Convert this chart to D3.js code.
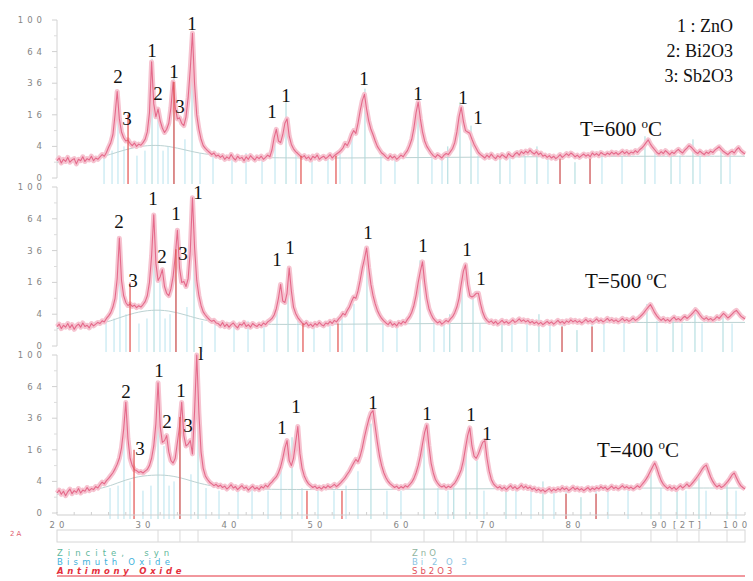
<!DOCTYPE html>
<html>
<head>
<meta charset="utf-8">
<script src="https://cdn.jsdelivr.net/npm/d3@7"></script>
<style>
  body { margin: 0; background: #fff; }
  svg { display: block; }
</style>
</head>
<body>
<div id="chart"></div>
<script>
// XRD scans, counts on a sqrt scale, sampled every 0.25 deg 2theta from 20
var scanStart = 20
var scanStep = 0.25

var trace600 = [
  1.2, 1.6, 0.9, 1.4, 1.1, 1.7, 1.0, 1.3, 1.5, 0.8, 1.4, 1.2, 1.8, 1.1, 1.5, 1.3, 1.9, 1.2, 1.6, 1.4,
  1.8, 2.2, 1.9, 2.6, 3.8, 5.0, 7.5, 16,
  30, 14, 8.5, 6.5, 5.5, 5.8, 4.8, 4.2, 4.9, 4.0, 4.6, 4.3, 5.0, 6.0, 8.5, 17, 54, 22, 15, 19, 13, 10,
  8.3, 9.5, 12, 20, 37, 20, 14, 14.5, 12, 11, 15, 26, 48, 84, 35, 16, 9.5, 6, 4.2, 3.5, 3.0, 2.6, 2.2, 2.5, 1.9,
  2.1, 1.7, 2.0, 1.4, 1.8, 1.5, 2.2, 1.6, 1.3, 1.9, 1.5, 1.7, 1.2, 1.8, 1.4, 2.0, 1.6, 1.3, 1.8, 1.5, 1.9, 1.4, 1.7, 2.1, 1.8,
  3.2, 6.5, 9.5, 5.5, 5.0, 7.5, 12, 14, 7, 4.5, 3.4, 2.8, 2.4, 2.0,
  1.7, 2.0, 1.5, 1.8, 1.3, 1.9, 1.6, 2.1, 1.4, 1.7, 1.9, 1.5, 1.8, 2.2, 1.6, 2.0, 2.3, 2.6,
  3.0, 3.6, 4.8, 4.2, 5.5, 7.5, 9, 8, 12, 18, 24, 28, 19, 13, 9.5, 7.5, 5.5, 4.0, 3.2, 2.5, 2.2,
  1.8, 1.5, 2.0, 1.6, 1.9, 1.4, 1.7, 2.1, 1.8, 2.4,
  3.0, 4.2, 6.0, 10, 17, 23, 14, 8.5, 5.5, 4.0, 3.2, 2.5,
  2.0, 1.7, 2.2, 1.9, 1.6, 2.1, 2.4, 2.2,
  2.8, 3.5, 5.0, 8.5, 15, 20, 13, 9, 8.5, 8, 6, 4.5, 3.5, 2.6, 2.2,
  1.9, 1.6, 2.1, 1.7, 2.3, 1.8, 1.5, 2.0, 1.7, 2.2, 1.9, 1.6, 2.4, 2.0, 1.8, 2.3, 2.6, 2.1, 2.8, 2.4,
  2.9, 2.5, 3.1, 2.6, 2.3, 2.8, 2.2, 2.5, 1.9, 2.1, 1.7, 2.0, 1.6, 1.9, 1.5, 1.8, 2.2, 1.7, 2.0, 2.4,
  2.0, 2.5, 2.2, 1.8, 2.1, 1.7, 2.0, 2.3, 1.9, 2.2, 1.8, 2.5, 2.1, 2.4, 2.0, 2.6, 2.3, 2.1, 2.5, 2.2,
  2.7, 2.3, 2.6, 2.2, 2.5, 2.9, 2.4, 2.8, 2.3, 2.7, 2.5, 3.0, 2.6, 3.2, 3.6, 4.2,
  5.0, 5.8, 4.6, 3.8, 3.2, 2.6,
  2.3, 2.8, 2.4, 3.0, 2.6, 2.2, 2.7, 2.4, 2.9, 3.3, 2.8, 2.5, 3.1, 3.6, 4.2, 3.8, 3.2, 2.7, 2.4, 2.9,
  2.5, 2.2, 2.7, 2.4, 2.9, 2.6, 3.1, 3.5, 3.9, 3.3, 2.8, 2.5, 2.2, 2.6, 2.9, 2.5, 3.2, 3.7, 3.0, 2.6, 2.3
]

var trace500 = [
  1.5, 1.9, 1.2, 1.7, 1.4, 2.0, 1.3, 1.8, 1.1, 1.6, 1.9, 1.4, 2.1, 1.5, 1.7, 1.3, 2.0, 1.6, 1.9, 2.2,
  2.0, 2.5, 2.3, 3.0, 3.6, 4.4, 6.0,
  9, 18, 46, 17, 10, 7.5, 6.5, 7.0, 6.2, 6.6, 5.8, 6.4, 6.0, 6.8, 7.8, 10, 16, 32, 68, 27, 17, 19,
  23, 14, 11, 10, 13, 19, 32, 53, 24, 16, 16.5, 14, 18, 36, 87, 38, 17, 10, 6.5, 4.6, 3.8, 3.2, 2.7, 2.4, 2.6, 2.1,
  2.0, 1.6, 2.2, 1.5, 1.9, 1.4, 1.8, 2.1, 1.6, 1.3, 1.9, 1.7, 2.2, 1.5, 1.8, 1.4, 2.0, 1.7, 1.5, 1.9, 1.6, 2.1, 1.8, 2.3, 2.6, 3.0,
  3.8, 5.5, 9, 15, 8, 7.5, 11, 24, 12, 6, 4.2, 3.2, 2.6,
  2.1, 1.8, 2.2, 1.6, 1.9, 1.5, 2.0, 1.7, 2.2, 1.8, 1.6, 2.1, 1.9, 2.4, 2.0, 2.6, 2.3, 2.9, 3.4, 4.2,
  3.8, 5.0, 6.0, 7.8, 9.5, 9.0, 12, 17, 24, 30, 38, 24, 15, 10, 7, 5, 3.8, 3.0, 2.5,
  2.1, 1.8, 2.3, 1.7, 2.0, 1.6, 2.2, 1.9, 2.4, 2.1, 2.8, 3.4,
  4.5, 6.5, 10, 16, 22, 28, 16, 9, 5.5, 4.0, 3.0,
  2.5, 2.1, 2.4, 1.9, 2.2, 2.6, 2.3, 2.9, 3.4,
  4.4, 6.0, 9.0, 15, 22, 26, 15, 10, 9.5, 10, 11, 11, 7, 4.5, 3.2, 2.6,
  2.2, 2.5, 2.0, 2.4, 1.9, 2.2, 2.6, 2.1, 2.4, 2.0, 2.3, 2.7, 2.2, 2.5, 2.9, 2.4, 2.7, 2.3, 2.6, 2.1,
  2.4, 2.0, 2.3, 1.9, 2.2, 1.8, 2.1, 2.4, 2.0, 2.3, 1.9, 2.2, 2.6, 2.1, 2.4, 2.0, 2.5, 2.2, 2.7, 2.3,
  2.6, 2.2, 2.5, 2.1, 2.4, 2.8, 2.3, 2.6, 2.2, 2.5, 2.9, 2.4, 2.7, 2.3, 2.6, 3.0, 2.5, 2.8, 2.4, 2.7,
  2.3, 2.6, 3.0, 2.5, 2.8, 2.4, 2.7, 3.1, 2.6, 2.9, 3.3, 3.8, 4.4, 5.2,
  6.0, 6.8, 5.6, 4.4, 3.6, 3.0,
  2.6, 3.0, 2.5, 2.8, 2.4, 2.9, 3.3, 2.7, 3.0, 2.6, 3.1, 3.5, 3.0, 3.4, 3.9, 4.5, 5.2, 4.6, 3.8, 3.2,
  2.8, 3.2, 2.7, 3.0, 2.6, 2.9, 3.4, 3.0, 3.6, 4.2, 3.7, 3.1, 3.5, 4.0, 4.6, 5.0, 4.3, 3.6, 3.2, 2.9
]

var trace400 = [
  1.6, 2.1, 1.4, 1.9, 1.2, 1.8, 2.3, 1.5, 2.0, 1.7, 2.4, 1.6, 2.1, 1.9, 2.6, 2.0, 2.4, 2.2, 2.8, 2.5,
  3.2, 3.8, 3.4, 4.2, 4.8, 5.6, 6.5, 7.8, 9.5, 12, 17, 28,
  49,
  22, 12, 9, 7.5, 7.2, 6.6, 6.9, 6.4, 7.0, 7.6, 9.0, 12, 18, 32,
  68,
  30, 20, 21, 24, 15, 11, 10, 12, 20, 30,
  49,
  24, 18, 19, 21, 14, 42,
  100,
  40, 15, 8, 5.5, 4.5, 3.8, 3.4, 3.0, 3.3, 2.8,
  3.1, 2.6, 2.9, 2.3, 2.7, 3.2, 2.5, 2.8, 2.2, 2.6, 3.0, 2.4, 2.7, 2.1, 2.5, 2.9, 2.3, 2.6, 2.2, 2.8, 2.5, 3.1, 2.7, 3.4, 3.9, 4.6,
  5.2, 6.5, 8.5, 12, 17, 21, 11, 9, 12, 20, 30, 14, 8, 5.5, 4.2, 3.4, 3.0,
  2.6, 2.9, 2.4, 2.7, 2.3, 2.8, 2.5, 3.0, 2.6, 2.9, 3.3, 2.8, 3.2, 3.7, 4.3, 5.0, 6.0,
  7.0, 8.5, 10, 11.5, 10.5, 13, 17, 23, 29, 35, 40, 42, 30, 20, 13, 9, 6.5, 5.0, 4.0, 3.4, 3.0,
  2.6, 2.9, 2.4, 2.8, 2.5, 3.0, 2.7, 3.2, 3.8, 4.8,
  6.5, 9, 13, 19, 26, 31, 18, 10, 6.5, 4.5, 3.6, 3.0,
  2.7, 3.0, 2.5, 2.9, 2.6, 3.1, 3.6, 4.5,
  5.8, 7.5, 11, 17, 24, 29, 18, 13, 12, 14, 17, 20, 21, 12, 7, 4.5, 3.4,
  2.9, 2.5, 2.8, 2.3, 2.7, 2.2, 2.6, 3.0, 2.4, 2.8, 2.3, 2.6, 3.1, 2.5, 2.9, 2.4, 2.7, 2.2, 2.5, 2.0,
  2.3, 1.9, 2.2, 1.8, 2.1, 2.4, 1.9, 2.3, 2.0, 2.4, 2.1, 2.6, 2.2, 2.5, 2.0, 2.3, 2.7, 2.2, 2.5, 2.1,
  2.4, 2.0, 2.3, 2.6, 2.1, 2.5, 2.2, 2.6, 2.3, 2.8, 2.4, 2.7, 2.2, 2.5, 2.9, 2.4, 2.7, 2.3, 2.6, 3.0,
  2.5, 2.8, 2.4, 2.7, 2.3, 2.6, 3.0, 2.6, 3.2, 3.8, 4.6, 5.6, 7.0,
  8.5, 10, 8.0, 5.8, 4.2, 3.3, 2.8,
  2.4, 2.8, 2.3, 2.7, 2.2, 2.6, 3.0, 2.5, 2.9, 3.4, 2.8, 3.3, 3.9, 4.6, 5.4, 6.4, 7.6, 8.6, 9.2, 7.0,
  5.2, 4.0, 3.2, 2.7, 3.1, 2.6, 2.9, 3.4, 4.0, 4.8, 5.8, 6.4, 5.0, 3.8, 3.0, 2.6, 2.3
]

// fitted background (smooth) under each scan
var bgTheta = [20, 25, 27, 29, 31, 33, 35, 37, 40, 45, 55, 65, 75, 85, 100]
var bg600 = [1.0, 1.6, 2.7, 3.8, 4.4, 4.1, 3.1, 2.3, 1.8, 1.6, 1.6, 1.7, 1.8, 1.9, 1.9]
var bg500 = [1.2, 1.8, 3.0, 4.4, 5.2, 5.0, 3.8, 2.6, 2.0, 1.8, 1.9, 2.0, 2.1, 2.2, 2.2]
var bg400 = [1.4, 2.2, 3.6, 5.2, 5.8, 5.8, 4.6, 3.2, 2.4, 2.2, 2.2, 2.3, 2.4, 2.5, 2.5]

// reference patterns (stick positions, relative heights)
var zincTheta = [31.05, 33.60, 35.70, 46.63, 55.81, 61.98, 65.44, 66.86, 68.14, 71.51, 75.81, 80.23, 88.37, 91.40, 93.95, 97.21]
var zincHeight = [57, 44, 80, 23, 32, 29, 4, 23, 11, 2, 4, 1, 7, 3, 6, 4]
var bismuthTheta = [25.47, 26.40, 27.09, 27.79, 29.30, 30.23, 31.74, 32.33, 32.91, 34.88, 36.63, 38.14, 40.35, 41.98, 43.84, 45.35, 47.79, 49.65, 51.51, 52.91, 54.30, 57.67, 59.30, 63.60, 64.77, 68.95, 72.67, 74.42, 77.09, 78.49, 81.98, 83.37, 85.70, 89.53, 92.44, 94.77, 98.26]
var bismuthHeight = [2.5, 3, 30, 4, 2, 3, 18, 3, 4, 6, 2.5, 2, 2, 2.5, 2, 9, 2.5, 2, 2, 3, 7, 2, 2, 2.5, 2, 2, 2, 2, 2, 2, 2, 2, 2, 2.5, 2, 2, 2]
var antimonyTheta = [28.26, 33.60, 48.37, 52.44, 78.49, 81.98]
var antimonyHeight = [16, 37, 2, 2, 1.5, 1.5]

var yTicks = [0, 4, 16, 36, 64, 100]
var yMinor = [1, 9, 25, 49, 81]
var xTicks = [20, 30, 40, 50, 60, 70, 80, 90, 100]

var peakLabels = [
  ["2", "3", "1", "2", "1", "3", "1", "1", "1", "1", "1", "1", "1"],
  ["2", "3", "1", "2", "1", "3", "1", "1", "1", "1", "1", "1", "1"],
  ["2", "3", "1", "2", "1", "3", "l", "1", "1", "1", "1", "1", "1"]
]
var tempLabels = ["600", "500", "400"]
var legendLines = ["1 : ZnO", "2: Bi2O3", "3: Sb2O3"]

var phaseNames = ["Zincite,  syn", "Bismuth Oxide", "Antimony Oxide"]
var phaseFormula = ["ZnO", "Bi 2 O 3", "Sb2O3"]

// layout
var svgWidth = 753
var svgHeight = 581

var panels = [
  { top: 20, bottom: 178, dx: 0, trace: trace600, bg: bg600, tx: 580, ty: 136,
    labels: [[118,83],[127,125],[152,57],[158,100],[174,78],[180,113],[192,30],[272,118],[286,102],[364,85],[418,100],[463,104],[478,124]] },
  { top: 187, bottom: 346, dx: 2, trace: trace500, bg: bg500, tx: 585, ty: 288,
    labels: [[119,228],[133,287],[153,205],[162,263],[176,220],[183,260],[198,199],[277,266],[290,254],[368,239],[423,252],[467,256],[481,285]] },
  { top: 355, bottom: 513, dx: 6, trace: trace400, bg: bg400, tx: 597, ty: 457,
    labels: [[126,398],[140,455],[159,377],[167,428],[181,397],[188,432],[201,360],[282,434],[296,413],[373,409],[427,420],[471,421],[487,440]] }
]

var svg = d3.select("#chart")
  .append("svg")
  .attr("width", svgWidth)
  .attr("height", svgHeight)

var x = d3.scaleLinear().domain([20, 100]).range([57, 745])

var axisFont = "DejaVu Sans"
var serif = "'Liberation Serif', 'Times New Roman', serif"
var digitW = 0.636   // DejaVu Sans digit advance, em

// software style numbers with wide gaps: every glyph gets its own x
function spacedDigits(sel, size, gap, anchor, px) {
  sel.attr("font-family", axisFont)
    .attr("font-size", size)
    .attr("text-anchor", "start")
    .attr("x", function(d) {
      var s = String(d)
      var cw = digitW * size
      var w = s.length * cw + (s.length - 1) * gap
      var x0 = px(d)
      if (anchor === "end") x0 = x0 - w
      if (anchor === "middle") x0 = x0 - w / 2
      return d3.range(s.length).map(i => (x0 + i * (cw + gap)).toFixed(1)).join(" ")
    })
}

// letters spread apart, left aligned
function spaced(sel, size, gap) {
  sel.attr("font-family", axisFont)
    .attr("font-size", size)
    .attr("dx", function() {
      var n = this.textContent.length
      return d3.range(n).map(i => i === 0 ? 0 : gap).join(" ")
    })
}

panels.forEach(function(p, k) {
  var y = d3.scaleSqrt().domain([0, 100]).range([p.bottom, p.top])
  var g = svg.append("g")

  // y axis
  g.append("line")
    .attr("x1", 57).attr("x2", 57)
    .attr("y1", p.top).attr("y2", p.bottom)
    .attr("stroke", "#d4d4d4")
  g.selectAll(".ymaj")
    .data(yTicks)
    .enter()
    .append("line")
    .attr("x1", 52).attr("x2", 57)
    .attr("y1", d => y(d)).attr("y2", d => y(d))
    .attr("stroke", "#d0d0d0")
  g.selectAll(".ymin")
    .data(yMinor)
    .enter()
    .append("line")
    .attr("x1", 54).attr("x2", 57)
    .attr("y1", d => y(d)).attr("y2", d => y(d))
    .attr("stroke", "#dcdcdc")
  g.selectAll(".ylab")
    .data(yTicks)
    .enter()
    .append("text")
    .attr("y", d => y(d) + 3)
    .attr("fill", "#858585")
    .text(d => d)
    .call(spacedDigits, 8.5, 4, "end", d => 42)

  // reference sticks
  function sticks(theta, heights, color, width) {
    g.append("g")
      .selectAll("line")
      .data(theta)
      .enter()
      .append("line")
      .attr("x1", d => x(d) + p.dx).attr("x2", d => x(d) + p.dx)
      .attr("y1", p.bottom + 6)
      .attr("y2", (d, i) => y(heights[i]))
      .attr("stroke", color)
      .attr("stroke-width", width)
  }
  sticks(bismuthTheta, bismuthHeight, "#b8e3ee", 1)
  sticks(zincTheta, zincHeight, "#a9d9dc", 1)

  // background fit
  var bgLine = d3.line()
    .x((d, i) => x(bgTheta[i]))
    .y(d => y(d))
    .curve(d3.curveBasis)
  g.append("path")
    .attr("d", bgLine(p.bg))
    .attr("fill", "none")
    .attr("stroke", "#bcd2d2")
    .attr("stroke-width", 1)

  // measured scan
  var scanLine = d3.line()
    .x((d, i) => x(scanStart + i * scanStep))
    .y(d => y(d))
  g.append("path")
    .attr("d", scanLine(p.trace))
    .attr("fill", "none")
    .attr("stroke", "#f6c3d0")
    .attr("stroke-width", 5)
    .attr("stroke-linejoin", "round")
  g.append("path")
    .attr("d", scanLine(p.trace))
    .attr("fill", "none")
    .attr("stroke", "#e4698a")
    .attr("stroke-width", 1.1)
    .attr("stroke-linejoin", "round")

  sticks(antimonyTheta, antimonyHeight, "#e2504e", 1.2)

  // peak labels
  g.selectAll(".pk")
    .data(peakLabels[k])
    .enter()
    .append("text")
    .attr("x", (d, i) => p.labels[i][0])
    .attr("y", (d, i) => p.labels[i][1])
    .attr("text-anchor", "middle")
    .attr("font-family", serif)
    .attr("font-size", 19)
    .attr("fill", "#111")
    .text(d => d)

  var t = g.append("text")
    .attr("x", p.tx)
    .attr("y", p.ty)
    .attr("font-family", serif)
    .attr("font-size", 21)
    .attr("fill", "#111")
  t.append("tspan").text("T=" + tempLabels[k] + " ")
  t.append("tspan").attr("font-size", 13).attr("dy", -8).text("o")
  t.append("tspan").attr("dy", 8).text("C")
})

// phase legend
svg.selectAll(".leg")
  .data(legendLines)
  .enter()
  .append("text")
  .attr("x", 733)
  .attr("y", (d, i) => 32 + i * 25)
  .attr("text-anchor", "end")
  .attr("font-family", serif)
  .attr("font-size", 18)
  .attr("fill", "#111")
  .text(d => d)

// x axis
var xAxisY = 515
svg.append("line")
  .attr("x1", 57).attr("x2", 745)
  .attr("y1", xAxisY).attr("y2", xAxisY)
  .attr("stroke", "#cfcfcf")
svg.selectAll(".xmin")
  .data(d3.range(20, 101, 2))
  .enter()
  .append("line")
  .attr("x1", d => x(d)).attr("x2", d => x(d))
  .attr("y1", xAxisY - 3).attr("y2", xAxisY)
  .attr("stroke", "#cfcfcf")
svg.selectAll(".xlab")
  .data(xTicks)
  .enter()
  .append("text")
  .attr("y", 528)
  .attr("fill", "#858585")
  .text(d => d)
  .call(spacedDigits, 8.5, 4, "middle", d => d === 100 ? 735 : x(d))
svg.append("text")
  .attr("x", 673)
  .attr("y", 528)
  .attr("fill", "#858585")
  .text("[2T]")
  .call(spaced, 8.5, 3.5)

// pattern lane
svg.append("text")
  .attr("x", 10)
  .attr("y", 536)
  .attr("fill", "#e06070")
  .text("2A")
  .call(spaced, 7, 2)
svg.append("rect")
  .attr("x", 57).attr("y", 530)
  .attr("width", 688).attr("height", 12)
  .attr("fill", "none")
  .attr("stroke", "#d6d6d6")
svg.selectAll(".lane")
  .data(zincTheta)
  .enter()
  .append("line")
  .attr("x1", d => x(d) + 6).attr("x2", d => x(d) + 6)
  .attr("y1", 530).attr("y2", 542)
  .attr("stroke", "#dadada")

var phaseColors = ["#5fb89c", "#3fb2dc", "#e4303c"]
var formulaColors = ["#8fb4a0", "#8cc4e2", "#e2505a"]
var phaseGaps = [5, 4.2, 3.7]

svg.selectAll(".pname")
  .data(phaseNames)
  .enter()
  .append("text")
  .attr("x", 57)
  .attr("y", (d, i) => 556 + i * 9)
  .attr("font-style", (d, i) => i === 2 ? "italic" : "normal")
  .attr("font-weight", (d, i) => i === 2 ? "bold" : "normal")
  .attr("fill", (d, i) => phaseColors[i])
  .style("white-space", "pre")
  .text(d => d)
  .each(function(d, i) { d3.select(this).call(spaced, 8.5, phaseGaps[i]) })
svg.selectAll(".pform")
  .data(phaseFormula)
  .enter()
  .append("text")
  .attr("x", 412)
  .attr("y", (d, i) => 556 + i * 9)
  .attr("fill", (d, i) => formulaColors[i])
  .style("white-space", "pre")
  .text(d => d)
  .call(spaced, 8.5, 3)
svg.append("line")
  .attr("x1", 57).attr("x2", 745)
  .attr("y1", 576).attr("y2", 576)
  .attr("stroke", "#e4303c")
  .attr("stroke-width", 1)
</script>
</body>
</html>
